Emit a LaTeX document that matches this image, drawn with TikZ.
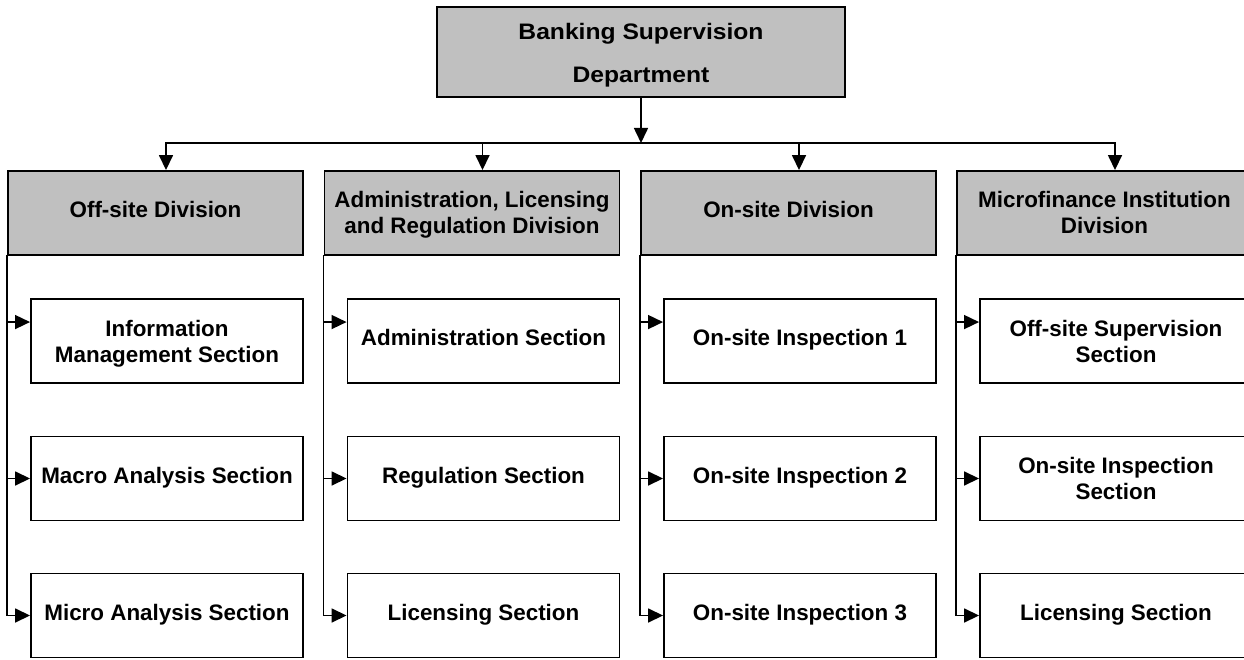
\documentclass[tikz,border=0pt]{standalone}
\usepackage{fontspec}
\setmainfont{Liberation Sans}
\newfontfamily\topfont[FakeStretch=1.1]{Liberation Sans Bold}
\usetikzlibrary{arrows.meta}
\definecolor{boxgrey}{HTML}{C0C0C0}
\tikzset{
  boxbase/.style={draw=black, line width=1.9pt, align=center, inner sep=0pt,
    font={\bfseries\fontsize{22.4}{26}\selectfont}, text height=15pt, text depth=6pt},
  twoline/.style={text height=47pt, text depth=5pt},
  topbox/.style={boxbase, fill=boxgrey, minimum width=408pt, minimum height=90pt,
    font={\topfont\fontsize{22.4}{43}\selectfont}, text height=68pt, text depth=6pt},
  divbox/.style={boxbase, fill=boxgrey, minimum width=295pt, minimum height=84pt},
  secbox/.style={boxbase, fill=white, minimum width=272pt, minimum height=84pt},
  conn/.style={line width=1.6pt, line cap=rect},
  arr/.style={conn, -{Triangle[length=15pt,width=14pt]}}
}
\begin{document}
\begin{tikzpicture}[x=1pt,y=-1pt]
\useasboundingbox (0,0) rectangle (1244,660);
\clip (0,0) rectangle (1244,660);
% top
\node[topbox] (top) at (641,52) {Banking Supervision\\Department};
% divisions
\node[divbox] (d1) at (155.5,213) {Off-site Division};
\node[divbox, twoline] (d2) at (472,213) {Administration, Licensing\\and Regulation Division};
\node[divbox] (d3) at (788.5,213) {On-site Division};
\node[divbox, twoline] (d4) at (1104.5,213) {Microfinance Institution\\Division};
% sections
\node[secbox, twoline] (s11) at (167,341) {Information\\Management Section};
\node[secbox] (s12) at (167,478.5) {Macro Analysis Section};
\node[secbox] (s13) at (167,615.5) {Micro Analysis Section};
\node[secbox] (s21) at (483.5,341) {Administration Section};
\node[secbox] (s22) at (483.5,478.5) {Regulation Section};
\node[secbox] (s23) at (483.5,615.5) {Licensing Section};
\node[secbox] (s31) at (800,341) {On-site Inspection 1};
\node[secbox] (s32) at (800,478.5) {On-site Inspection 2};
\node[secbox] (s33) at (800,615.5) {On-site Inspection 3};
\node[secbox, twoline] (s41) at (1116,341) {Off-site Supervision\\Section};
\node[secbox, twoline] (s42) at (1116,478.5) {On-site Inspection\\Section};
\node[secbox] (s43) at (1116,615.5) {Licensing Section};
% bus
\coordinate (j) at (641,143);
\coordinate (b1) at (166,143);
\coordinate (b2) at (482.5,143);
\coordinate (b3) at (799,143);
\coordinate (b4) at (1115,143);
\draw[arr] (top.south) -- (j);
\draw[conn] (b1) -- (b4);
\draw[arr] (b1) -- (b1 |- d1.north);
\draw[arr] (b2) -- (b2 |- d2.north);
\draw[arr] (b3) -- (b3 |- d3.north);
\draw[arr] (b4) -- (b4 |- d4.north);
% division to sections
\foreach \d in {1,2,3,4}{
  \coordinate (a\d) at ([yshift=-24pt]s\d1.north west);
  \draw[arr] (d\d.south west) |- (s\d3.west);
  \draw[arr] (d\d.south west |- s\d2.west) -- (s\d2.west);
  \draw[arr] (d\d.south west |- a\d) -- (a\d);
}
\end{tikzpicture}
\end{document}
